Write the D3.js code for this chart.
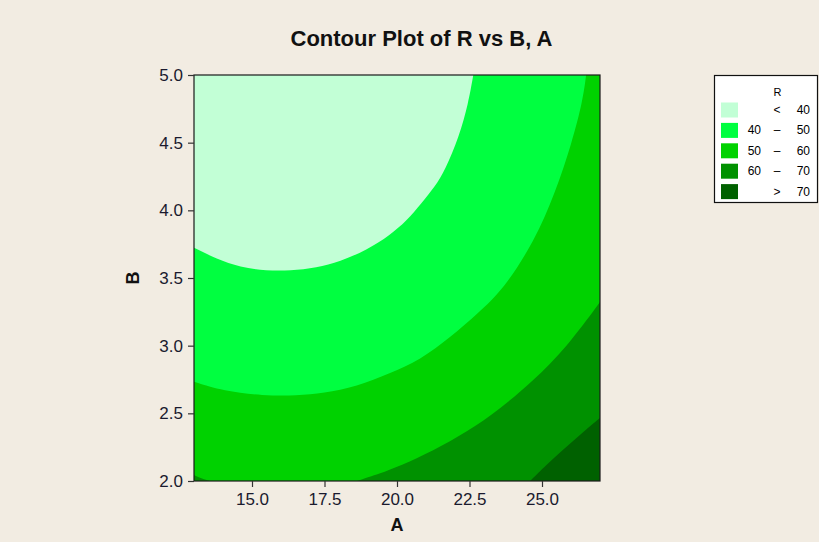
<!DOCTYPE html>
<html>
<head>
<meta charset="utf-8">
<script src="https://cdn.jsdelivr.net/npm/d3@7/dist/d3.min.js"></script>
<style>
  html, body { margin: 0; padding: 0; background: #f2ece2; }
  svg { display: block; }
</style>
</head>
<body>
<script>
// ---------- data ----------
const title = "Contour Plot of R vs B, A";
const xLabel = "A";
const yLabel = "B";
const xDomain = [13, 27];
const yDomain = [2, 5];
const xTicks = [15, 17.5, 20, 22.5, 25];
const yTicks = [2, 2.5, 3, 3.5, 4, 4.5, 5];

const legendTitle = "R";
const legendLow  = ["", "40", "50", "60", ""];
const legendSym  = ["<", "\u2013", "\u2013", "\u2013", ">"];
const legendHigh = ["40", "50", "60", "70", "70"];
const bandColors = ["#c2ffd6", "#00ff40", "#00d200", "#009100", "#006100"];

// contour lines [A, B]
const contour40 = [[13,3.724],[13.78,3.640],[14.59,3.579],[15.51,3.554],[16.31,3.554],[17.23,3.576],
  [18.03,3.621],[18.96,3.707],[19.76,3.818],[20.33,3.921],[20.85,4.054],[21.31,4.175],[21.66,4.298],
  [22.14,4.544],[22.46,4.791],[22.63,5.0]];
const contour50 = [[13,2.734],[14.01,2.665],[15.39,2.630],[16.54,2.630],[17.46,2.648],[18.61,2.697],
  [19.76,2.796],[20.79,2.894],[21.86,3.064],[22.79,3.241],[23.66,3.411],[24.76,3.781],[25.45,4.128],
  [26.03,4.498],[26.41,4.815],[26.52,5.0]];
const contour60 = [[18.62,2.0],[19.41,2.055],[20.10,2.111],[21.24,2.222],[22.41,2.362],[23.55,2.532],
  [24.69,2.739],[25.86,2.990],[27,3.323]];
const contour60corner = [[13,2.044],[13.28,2.018],[13.55,2.0]];
const contour70 = [[24.59,2.0],[25.14,2.118],[25.72,2.229],[26.34,2.347],[27,2.466]];

// ---------- layout ----------
const W = 819, H = 542;
const plot = { left: 194, right: 600, top: 75, bottom: 481 };

const svg = d3.select("body").append("svg").attr("width", W).attr("height", H);
svg.append("rect").attr("width", W).attr("height", H).attr("fill", "#f2ece2");

const x = d3.scaleLinear().domain(xDomain).range([plot.left, plot.right]);
const y = d3.scaleLinear().domain(yDomain).range([plot.bottom, plot.top]);

svg.append("clipPath").attr("id", "clip").append("rect")
  .attr("x", plot.left).attr("y", plot.top)
  .attr("width", plot.right - plot.left).attr("height", plot.bottom - plot.top);

const g = svg.append("g").attr("clip-path", "url(#clip)");
const line = d3.line().x(d => x(d[0])).y(d => y(d[1])).curve(d3.curveBasis);
const pt = (a, b) => `L${x(a)},${y(b)}`;
const [x0, x1] = xDomain, [y0, y1] = yDomain;

// > 70 background
g.append("rect").attr("x", plot.left).attr("y", plot.top)
  .attr("width", plot.right - plot.left).attr("height", plot.bottom - plot.top)
  .attr("fill", bandColors[4]);
// R < 70
g.append("path").attr("fill", bandColors[3])
  .attr("d", line(contour70) + pt(x1, y1) + pt(x0, y1) + pt(x0, y0) + "Z");
// R < 60
g.append("path").attr("fill", bandColors[2])
  .attr("d", line(contour60) + pt(x1, y1) + pt(x0, y1) + line(contour60corner).replace("M", "L") + "Z");
// R < 50
g.append("path").attr("fill", bandColors[1])
  .attr("d", line(contour50) + pt(x0, y1) + "Z");
// R < 40
g.append("path").attr("fill", bandColors[0])
  .attr("d", line(contour40) + pt(x0, y1) + "Z");

// frame
svg.append("rect").attr("x", plot.left).attr("y", plot.top)
  .attr("width", plot.right - plot.left).attr("height", plot.bottom - plot.top)
  .attr("fill", "none").attr("stroke", "#1a1a1a").attr("stroke-width", 1.2);

const font = "'Liberation Sans', Arial, sans-serif";

// axes
const xAxis = svg.append("g").attr("transform", `translate(0,${plot.bottom})`)
  .call(d3.axisBottom(x).tickValues(xTicks).tickFormat(d3.format(".1f")).tickSize(6).tickPadding(6));
const yAxis = svg.append("g").attr("transform", `translate(${plot.left},0)`)
  .call(d3.axisLeft(y).tickValues(yTicks).tickFormat(d3.format(".1f")).tickSize(6).tickPadding(5));
[xAxis, yAxis].forEach(a => {
  a.select(".domain").remove();
  a.selectAll(".tick line").attr("stroke", "#333").attr("stroke-width", 1.2);
  a.selectAll(".tick text").attr("fill", "#1a1a2e").style("font-family", font).style("font-size", "17px");
});

// title & axis labels
svg.append("text").attr("x", 421.5).attr("y", 46).attr("text-anchor", "middle")
  .style("font-family", font).style("font-weight", "bold").style("font-size", "22px")
  .attr("fill", "#111").text(title);
svg.append("text").attr("x", (plot.left + plot.right) / 2).attr("y", 531).attr("text-anchor", "middle")
  .style("font-family", font).style("font-weight", "bold").style("font-size", "18px")
  .attr("fill", "#111").text(xLabel);
svg.append("text").attr("transform", `translate(139,${(plot.top + plot.bottom) / 2}) rotate(-90)`)
  .attr("text-anchor", "middle")
  .style("font-family", font).style("font-weight", "bold").style("font-size", "18px")
  .attr("fill", "#111").text(yLabel);

// legend
const lg = svg.append("g");
lg.append("rect").attr("x", 714.5).attr("y", 75.5).attr("width", 103).attr("height", 127)
  .attr("fill", "#fff").attr("stroke", "#111").attr("stroke-width", 1.2);
lg.append("text").attr("x", 777.5).attr("y", 95.5).attr("text-anchor", "middle")
  .style("font-family", font).style("font-size", "11px").attr("fill", "#000").text(legendTitle);
bandColors.forEach((c, i) => {
  const cy = 110 + i * 20.4;
  lg.append("rect").attr("x", 721).attr("y", cy - 7.5).attr("width", 17).attr("height", 15).attr("fill", c);
  const t = (tx, anchor, s) => lg.append("text").attr("x", tx).attr("y", cy + 4)
    .attr("text-anchor", anchor).style("font-family", font).style("font-size", "12px")
    .attr("fill", "#000").text(s);
  t(761, "end", legendLow[i]);
  t(777, "middle", legendSym[i]);
  t(810, "end", legendHigh[i]);
});
</script>
</body>
</html>
